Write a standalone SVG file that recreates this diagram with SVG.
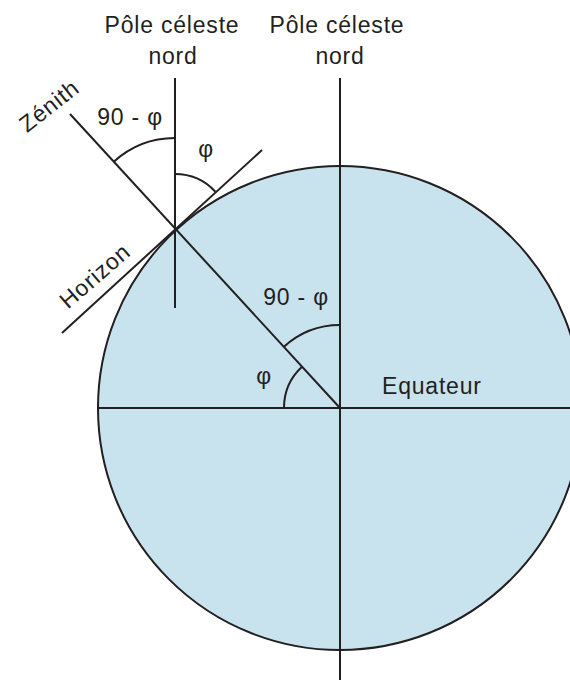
<svg xmlns="http://www.w3.org/2000/svg" width="570" height="680" viewBox="0 0 570 680">
<style>
.ln{stroke:#231f20;stroke-width:2;fill:none;stroke-linecap:butt}
.arc{stroke:#231f20;stroke-width:2;fill:none}
.t{font-family:"Liberation Sans",Arial,sans-serif;font-size:23px;fill:#231f20;letter-spacing:0.8px}
.m{text-anchor:middle}
</style>
<rect width="570" height="680" fill="#ffffff"/>
<g id="sphere">
<circle cx="340" cy="408" r="242" fill="#c8e3ee" stroke="#231f20" stroke-width="2"/>
</g>
<g id="connectors">
<line class="ln" x1="340" y1="78" x2="340" y2="680"/>
<line class="ln" x1="97" y1="408" x2="570" y2="408"/>
<line class="ln" x1="175" y1="78" x2="175" y2="308"/>
<line class="ln" x1="340" y1="408" x2="70" y2="114"/>
<line class="ln" x1="62" y1="333" x2="262" y2="150"/>
<path class="arc" d="M113.5,162 A91,91 0 0 1 175,138"/>
<path class="arc" d="M175,174 A55,55 0 0 1 215.4,191.7"/>
<path class="arc" d="M283.7,347 A83,83 0 0 1 340,325"/>
<path class="arc" d="M284,408 A56,56 0 0 1 302,366.8"/>
</g>
<g id="pole1">
<text class="t m" x="172" y="33">Pôle céleste</text>
<text class="t m" x="173" y="64">nord</text>
</g>
<g id="pole2">
<text class="t m" x="337" y="33">Pôle céleste</text>
<text class="t m" x="340" y="64">nord</text>
</g>
<g id="zenith">
<text class="t m" transform="translate(54,112) rotate(-38)">Zénith</text>
</g>
<g id="horizon">
<text class="t m" transform="translate(100,282) rotate(-41)">Horizon</text>
</g>
<g id="angle-top-90">
<text class="t m" x="130" y="125">90 - φ</text>
</g>
<g id="angle-top-phi">
<text class="t m" x="206" y="157">φ</text>
</g>
<g id="angle-center-90">
<text class="t m" x="296" y="305">90 - φ</text>
</g>
<g id="angle-center-phi">
<text class="t m" x="264" y="384">φ</text>
</g>
<g id="equateur">
<text class="t" x="382" y="394">Equateur</text>
</g>
</svg>
